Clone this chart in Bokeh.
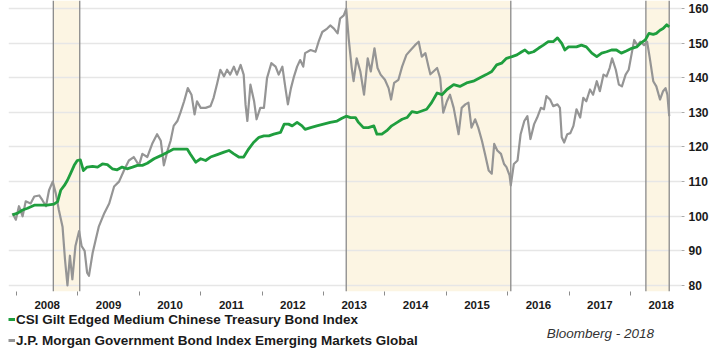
from bokeh.plotting import figure
from bokeh.layouts import column
from bokeh.models import (Range1d, FixedTicker, LinearAxis, BoxAnnotation, Span,
                          Legend, LegendItem, Label)
from bokeh.embed import file_html
from bokeh.resources import INLINE

# ---- data (decimal years, index values) ----
jpm_t = [2007.935, 2007.99, 2008.04, 2008.10, 2008.15, 2008.23, 2008.29, 2008.37, 2008.42, 2008.48,
         2008.53, 2008.59, 2008.64, 2008.69, 2008.75, 2008.79, 2008.83, 2008.87, 2008.91, 2008.96,
         2009.02, 2009.06, 2009.11, 2009.15, 2009.18, 2009.24, 2009.29, 2009.34, 2009.43, 2009.51,
         2009.59, 2009.67, 2009.75, 2009.83, 2009.91, 2009.995, 2010.05, 2010.13, 2010.21, 2010.29,
         2010.35, 2010.40, 2010.46, 2010.51, 2010.56, 2010.62, 2010.67, 2010.73, 2010.79, 2010.85,
         2010.90, 2010.94, 2011.00, 2011.08, 2011.16, 2011.21, 2011.27, 2011.32, 2011.38, 2011.43,
         2011.48, 2011.54, 2011.59, 2011.65, 2011.70, 2011.73, 2011.76, 2011.81, 2011.87, 2011.91,
         2011.97, 2012.03, 2012.08, 2012.15, 2012.22, 2012.27, 2012.33, 2012.38, 2012.42, 2012.47,
         2012.52, 2012.57, 2012.62, 2012.67, 2012.70, 2012.79, 2012.87, 2012.92, 2012.98, 2013.06,
         2013.11, 2013.17, 2013.23, 2013.27, 2013.33, 2013.37, 2013.41, 2013.46, 2013.49, 2013.54,
         2013.60, 2013.66, 2013.72, 2013.77, 2013.83, 2013.88, 2013.93, 2014.00, 2014.06, 2014.10,
         2014.15, 2014.22, 2014.28, 2014.35, 2014.42, 2014.49, 2014.55, 2014.60, 2014.66, 2014.71,
         2014.74, 2014.79, 2014.85, 2014.90, 2014.95, 2015.01, 2015.06, 2015.12, 2015.20, 2015.25,
         2015.31, 2015.36, 2015.41, 2015.47, 2015.52, 2015.58, 2015.63, 2015.69, 2015.74, 2015.78,
         2015.83, 2015.89, 2015.94, 2015.98, 2016.03, 2016.05, 2016.10, 2016.16, 2016.21, 2016.27,
         2016.32, 2016.37, 2016.43, 2016.48, 2016.54, 2016.59, 2016.63, 2016.69, 2016.74, 2016.81,
         2016.85, 2016.88, 2016.92, 2016.97, 2017.02, 2017.07, 2017.12, 2017.18, 2017.23, 2017.28,
         2017.34, 2017.39, 2017.45, 2017.50, 2017.56, 2017.61, 2017.66, 2017.70, 2017.76, 2017.81,
         2017.86, 2017.92, 2017.97, 2018.02, 2018.06, 2018.11, 2018.16, 2018.22, 2018.27, 2018.31,
         2018.37, 2018.42, 2018.48, 2018.53, 2018.57, 2018.60, 2018.63]
jpm_v = [100.9, 99.0, 102.9, 100.0, 104.3, 103.7, 105.7, 106.0, 104.7, 102.9,
         107.5, 110.0, 106.6, 101.8, 97.0, 87.5, 80.0, 88.6, 81.8, 91.4,
         95.7, 91.4, 90.0, 83.7, 82.8, 89.4, 93.2, 97.0, 100.9, 103.7,
         108.6, 110.0, 113.2, 116.1, 117.1, 114.7, 118.0, 117.1, 120.9, 123.7,
         121.8, 114.7, 119.0, 121.8, 126.1, 127.5, 129.9, 133.2, 137.0, 135.1,
         129.4, 133.2, 131.3, 131.3, 131.8, 134.2, 138.5, 142.3, 140.4, 142.3,
         140.9, 143.2, 140.9, 143.7, 140.9, 132.3, 127.5, 138.0, 133.2, 128.0,
         131.3, 131.3, 139.9, 144.2, 143.2, 140.9, 143.2, 137.0, 132.3, 137.0,
         140.4, 143.2, 145.1, 143.2, 147.1, 148.0, 147.5, 150.4, 153.2, 154.2,
         155.1, 154.2, 152.8, 157.1, 158.0, 159.9, 151.3, 142.8, 139.0, 145.6,
         141.8, 135.1, 145.6, 141.8, 148.5, 142.8, 140.9, 139.4, 137.0, 133.7,
         138.5, 139.4, 143.2, 146.6, 148.0, 149.4, 150.4, 146.1, 147.1, 143.2,
         141.0, 141.8, 142.8, 139.9, 129.9, 133.2, 135.1, 131.3, 123.7, 131.3,
         132.3, 132.8, 125.6, 128.0, 125.6, 121.8, 118.0, 113.2, 112.3, 120.9,
         119.0, 118.0, 115.1, 114.2, 111.8, 108.9, 115.1, 116.1, 123.7, 127.5,
         128.9, 122.3, 126.6, 128.5, 131.3, 130.9, 134.7, 133.7, 131.8, 132.3,
         131.3, 122.8, 121.3, 123.7, 124.0, 126.1, 130.9, 128.5, 134.2, 133.2,
         136.6, 135.1, 139.0, 136.1, 140.9, 140.4, 142.8, 145.6, 142.3, 138.0,
         137.5, 140.9, 142.3, 147.1, 150.9, 149.4, 150.4, 149.4, 150.4, 146.1,
         139.0, 137.5, 133.7, 136.1, 137.0, 135.1, 128.9]

csi_t = [2007.935, 2008.02, 2008.10, 2008.18, 2008.29, 2008.40, 2008.50, 2008.61, 2008.67, 2008.72,
         2008.78, 2008.83, 2008.88, 2008.94, 2008.99, 2009.04, 2009.09, 2009.15, 2009.24, 2009.32,
         2009.40, 2009.48, 2009.56, 2009.64, 2009.72, 2009.80, 2009.89, 2009.97, 2010.05, 2010.13,
         2010.24, 2010.35, 2010.46, 2010.56, 2010.67, 2010.78, 2010.83, 2010.92, 2011.00, 2011.08,
         2011.16, 2011.27, 2011.38, 2011.46, 2011.54, 2011.62, 2011.70, 2011.78, 2011.86, 2011.95,
         2012.03, 2012.11, 2012.19, 2012.30, 2012.36, 2012.43, 2012.49, 2012.57, 2012.65, 2012.70,
         2012.79, 2012.89, 2013.00, 2013.11, 2013.22, 2013.30, 2013.37, 2013.44, 2013.52, 2013.57,
         2013.65, 2013.73, 2013.82, 2013.87, 2013.95, 2014.03, 2014.11, 2014.20, 2014.28, 2014.36,
         2014.44, 2014.52, 2014.60, 2014.68, 2014.76, 2014.85, 2014.93, 2015.01, 2015.12, 2015.22,
         2015.33, 2015.44, 2015.54, 2015.65, 2015.74, 2015.82, 2015.90, 2015.98, 2016.07, 2016.15,
         2016.23, 2016.28, 2016.34, 2016.42, 2016.50, 2016.58, 2016.66, 2016.74, 2016.81, 2016.88,
         2016.93, 2016.99, 2017.04, 2017.12, 2017.20, 2017.28, 2017.37, 2017.45, 2017.53, 2017.61,
         2017.69, 2017.77, 2017.85, 2017.93, 2018.02, 2018.10, 2018.16, 2018.24, 2018.30, 2018.37,
         2018.42, 2018.48, 2018.53, 2018.59, 2018.63]
csi_v = [100.4, 100.9, 101.8, 102.3, 103.2, 103.2, 103.2, 103.5, 104.2, 107.5,
         108.9, 110.4, 112.3, 114.7, 116.1, 116.3, 113.2, 114.2, 114.4, 114.2,
         115.1, 114.9, 113.7, 113.4, 114.2, 113.7, 114.2, 114.7, 114.7, 115.3,
         116.6, 117.5, 118.5, 119.4, 119.4, 119.4, 118.0, 115.6, 116.6, 116.1,
         117.1, 117.8, 118.5, 119.0, 118.0, 117.1, 117.1, 119.4, 121.3, 122.8,
         123.2, 123.2, 123.7, 124.2, 126.6, 126.6, 126.1, 127.1, 126.1, 125.1,
         125.6, 126.1, 126.6, 127.1, 127.5, 128.3, 128.9, 128.5, 128.5, 127.1,
         125.6, 125.6, 126.1, 123.7, 123.7, 124.7, 126.1, 127.1, 128.0, 128.5,
         130.2, 129.9, 130.4, 130.9, 132.8, 135.6, 135.1, 136.6, 138.0, 137.5,
         138.5, 139.0, 139.9, 140.9, 141.8, 143.7, 144.2, 145.6, 146.1, 146.6,
         147.5, 148.0, 147.1, 147.5, 148.5, 149.4, 150.4, 150.4, 151.5, 149.9,
         148.0, 148.9, 148.9, 148.9, 149.4, 148.9, 147.1, 146.1, 147.1, 147.5,
         148.0, 148.0, 147.1, 147.7, 148.5, 148.9, 149.9, 150.9, 152.8, 152.5,
         152.8, 153.7, 154.2, 155.3, 154.7]

shade_start = [2008.60, 2013.37, 2018.25]
shade_end = [2009.03, 2016.05, 2018.63]

years = list(range(2008, 2019))
year_labels = [str(y) for y in years]
y_ticks = [80, 90, 100, 110, 120, 130, 140, 150, 160]

csi_name = "CSI Gilt Edged Medium Chinese Treasury Bond Index"
jpm_name = "J.P. Morgan Government Bond Index Emerging Markets Global"
source_text = "Bloomberg - 2018"

FONT = "Liberation Sans"
GREEN = "#1f9e3e"
GRAY = "#959595"
TEXT = "#1a1a1a"

# ---------------- main chart ----------------
p = figure(width=711, height=311, output_backend="svg", toolbar_location=None,
           x_range=Range1d(2007.87, 2018.83), y_range=Range1d(78.27, 162.30),
           min_border_left=8, min_border_right=29, min_border_top=0, min_border_bottom=19,
           x_axis_location=None, y_axis_location=None)
p.outline_line_color = None
p.background_fill_color = "white"
p.border_fill_color = "white"

xax = LinearAxis()
xax.ticker = FixedTicker(ticks=[y + 0.5 for y in years], minor_ticks=years)
xax.major_label_overrides = {y + 0.5: lab for y, lab in zip(years, year_labels)}
xax.major_tick_line_color = None
xax.major_tick_out = 0
xax.major_tick_in = 0
xax.minor_tick_out = 4
xax.minor_tick_in = 0
xax.minor_tick_line_color = "#8c8c8c"
xax.axis_line_color = None
xax.major_label_standoff = 5
xax.major_label_text_font = FONT
xax.major_label_text_font_style = "bold"
xax.major_label_text_font_size = "11.5px"
xax.major_label_text_color = TEXT
p.add_layout(xax, "below")

yax = LinearAxis()
yax.ticker = FixedTicker(ticks=y_ticks)
yax.axis_line_color = None
yax.major_tick_out = 3
yax.major_tick_in = 0
yax.major_tick_line_color = "#aaaaaa"
yax.minor_tick_line_color = None
yax.major_label_standoff = 4
yax.major_label_text_font = FONT
yax.major_label_text_font_style = "bold"
yax.major_label_text_font_size = "12px"
yax.major_label_text_color = TEXT
p.add_layout(yax, "right")

p.xgrid.grid_line_color = None
p.ygrid.ticker = FixedTicker(ticks=y_ticks)
p.ygrid.grid_line_color = "#e6e6e6"
p.ygrid.grid_line_width = 1.5

for s, e in zip(shade_start, shade_end):
    p.add_layout(BoxAnnotation(left=s, right=e, fill_color="#fcf5e3", fill_alpha=1.0,
                               line_color=None, level="image"))
    for edge in (s, e):
        p.add_layout(Span(location=edge, dimension="height", line_color="#8a8a8a",
                          line_width=1.3, level="underlay"))

p.line(jpm_t, jpm_v, line_color=GRAY, line_width=2.2, line_join="round")
p.line(csi_t, csi_v, line_color=GREEN, line_width=2.8, line_join="round")

# ---------------- legend strip ----------------
leg = figure(width=711, height=37, output_backend="svg", toolbar_location=None,
             x_range=Range1d(0, 711), y_range=Range1d(0, 37),
             min_border=0, x_axis_location=None, y_axis_location=None)
leg.outline_line_color = None
leg.grid.grid_line_color = None
leg.background_fill_color = "white"
leg.border_fill_color = "white"

# same series (out of this strip's view) so the legend swatches are drawn
k_csi = leg.line(csi_t, csi_v, line_color=GREEN, line_width=3)
k_jpm = leg.line(jpm_t, jpm_v, line_color=GRAY, line_width=3)

legend = Legend(items=[LegendItem(label=csi_name, renderers=[k_csi]),
                       LegendItem(label=jpm_name, renderers=[k_jpm])],
                location=(0, 0), orientation="vertical",
                glyph_width=7, glyph_height=16, label_height=16, label_standoff=1,
                spacing=5, padding=0, margin=0,
                border_line_color=None, background_fill_alpha=0,
                label_text_font=FONT, label_text_font_style="bold",
                label_text_font_size="13.5px", label_text_color=TEXT)
leg.add_layout(legend, "center")

leg.add_layout(Label(x=682, y=15, text=source_text, text_align="right",
                     text_font=FONT, text_font_style="italic", text_font_size="13.5px",
                     text_color="#333333", text_baseline="middle"))

layout = column(p, leg, spacing=0)
open("out.html", "w").write(file_html(layout, INLINE))
